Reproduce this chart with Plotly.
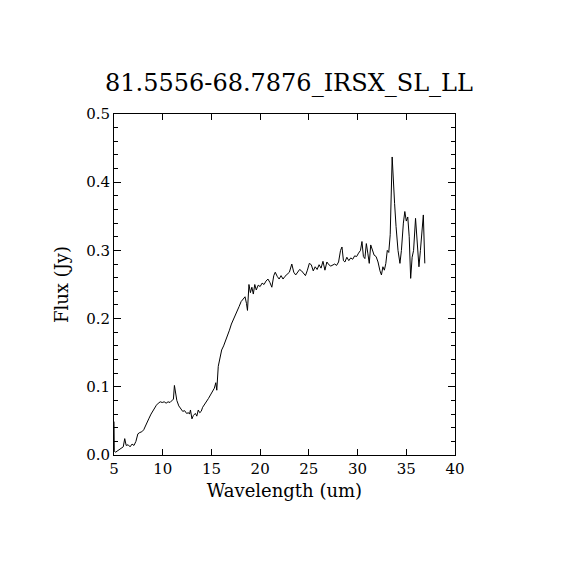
import plotly.graph_objects as go

# spectrum
wavelength = [
    5.00, 5.03, 5.15, 5.35, 5.55, 5.75, 5.95, 6.10, 6.25, 6.45, 6.65, 6.85, 7.05, 7.25,
    7.45, 7.65, 7.85, 8.05, 8.25, 8.45, 8.60, 8.80, 8.95, 9.15, 9.35, 9.55, 9.75, 9.95,
    10.15, 10.35, 10.55, 10.75, 10.95, 11.10, 11.20, 11.30, 11.45, 11.65, 11.85, 12.05,
    12.25, 12.45, 12.65, 12.75, 12.85, 13.00, 13.15, 13.35, 13.50, 13.65, 13.80, 13.95,
    14.10, 14.30, 14.50, 14.70, 14.90, 15.10, 15.30, 15.45, 15.55, 15.70, 15.85, 16.05,
    16.25, 16.45, 16.65, 16.85, 17.05, 17.25, 17.45, 17.65, 17.85, 18.05, 18.25, 18.45,
    18.60, 18.70, 18.85, 19.00, 19.15, 19.30, 19.45, 19.60, 19.80, 20.00, 20.20, 20.40,
    20.60, 20.80, 21.00, 21.20, 21.40, 21.55, 21.75, 21.95, 22.15, 22.35, 22.55, 22.75,
    23.00, 23.25, 23.45, 23.65, 23.85, 24.05, 24.25, 24.45, 24.65, 24.85, 25.05, 25.25,
    25.45, 25.65, 25.85, 26.05, 26.25, 26.45, 26.65, 26.85, 27.05, 27.25, 27.45, 27.65,
    27.85, 28.05, 28.25, 28.40, 28.55, 28.70, 28.90, 29.10, 29.30, 29.50, 29.70, 29.90,
    30.10, 30.30, 30.45, 30.60, 30.75, 30.90, 31.05, 31.20, 31.35, 31.50, 31.70, 31.90,
    32.10, 32.30, 32.45, 32.60, 32.75, 32.90, 33.05, 33.20, 33.35, 33.55, 33.65, 33.80,
    33.95, 34.15, 34.35, 34.50, 34.70, 34.85, 35.00, 35.15, 35.30, 35.45, 35.60, 35.75,
    35.95, 36.10, 36.30, 36.45, 36.65, 36.75, 36.90,
]
flux = [
    0.049, 0.006, 0.004, 0.006, 0.008, 0.010, 0.012, 0.024, 0.014, 0.015, 0.012, 0.016, 0.014, 0.020,
    0.031, 0.033, 0.034, 0.037, 0.044, 0.050, 0.054, 0.060, 0.064, 0.068, 0.073, 0.076, 0.078, 0.077,
    0.078, 0.076, 0.078, 0.077, 0.080, 0.082, 0.102, 0.090, 0.080, 0.072, 0.068, 0.064,
    0.065, 0.061, 0.062, 0.060, 0.066, 0.053, 0.058, 0.061, 0.057, 0.066, 0.062, 0.064,
    0.070, 0.074, 0.078, 0.083, 0.088, 0.094, 0.098, 0.106, 0.095, 0.130, 0.140, 0.154,
    0.160, 0.167, 0.175, 0.183, 0.192, 0.198, 0.205, 0.212, 0.218, 0.225, 0.228, 0.232,
    0.222, 0.212, 0.250, 0.238, 0.246, 0.236, 0.250, 0.242, 0.249, 0.247, 0.252, 0.250,
    0.255, 0.258, 0.253, 0.246, 0.263, 0.268, 0.262, 0.258, 0.263, 0.258, 0.262, 0.265,
    0.268, 0.280, 0.268, 0.264, 0.269, 0.272, 0.270, 0.266, 0.263, 0.271, 0.281, 0.279,
    0.270, 0.276, 0.272, 0.279, 0.274, 0.284, 0.271, 0.283, 0.279, 0.277, 0.279, 0.280,
    0.278, 0.283, 0.300, 0.305, 0.285, 0.283, 0.290, 0.285, 0.289, 0.287, 0.292, 0.291,
    0.296, 0.300, 0.313, 0.291, 0.288, 0.310, 0.296, 0.281, 0.308, 0.300, 0.293, 0.291,
    0.283, 0.270, 0.264, 0.276, 0.271, 0.281, 0.300, 0.297, 0.323, 0.437, 0.403, 0.369,
    0.335, 0.300, 0.281, 0.300, 0.340, 0.357, 0.343, 0.349, 0.320, 0.259, 0.290, 0.300,
    0.347, 0.315, 0.276, 0.300, 0.335, 0.352, 0.281,
]

title = "81.5556-68.7876_IRSX_SL_LL"
x_ticks = [5, 10, 15, 20, 25, 30, 35, 40]
y_ticks = [0.0, 0.1, 0.2, 0.3, 0.4, 0.5]

font = "DejaVu Serif"

fig = go.Figure(go.Scatter(x=wavelength, y=flux, mode="lines",
                           line=dict(color="black", width=1)))

# the page body has an 8px margin, so the figure is drawn 8px smaller
fig.update_layout(
    width=562, height=562,
    margin=dict(l=106, r=115, t=106, b=115),
    paper_bgcolor="white", plot_bgcolor="white",
    showlegend=False,
    font=dict(family=font, size=15, color="black"),
    title=dict(text=title, x=0.5, xanchor="center", y=1 - 75 / 562, yanchor="middle",
               yref="container", font=dict(family=font, size=24, color="black")),
)
fig.update_xaxes(
    range=[5, 40], tickvals=x_ticks, ticktext=[str(v) for v in x_ticks],
    ticks="inside", ticklen=6, tickwidth=1, tickcolor="black",
    showline=True, linecolor="black", linewidth=1, mirror="allticks",
    showgrid=False, zeroline=False,
    title=dict(text="Wavelength (um)", standoff=7),
)
fig.update_yaxes(
    range=[0, 0.5], tickvals=y_ticks, ticktext=["%.1f" % v for v in y_ticks],
    ticks="inside", ticklen=7, tickwidth=1, tickcolor="black",
    minor=dict(dtick=0.02, ticks="inside", ticklen=4, tickcolor="black", showgrid=False),
    showline=True, linecolor="black", linewidth=1, mirror="allticks",
    showgrid=False, zeroline=False,
    title=dict(text="Flux (Jy)", standoff=12),
)

fig.write_html("out.html")
